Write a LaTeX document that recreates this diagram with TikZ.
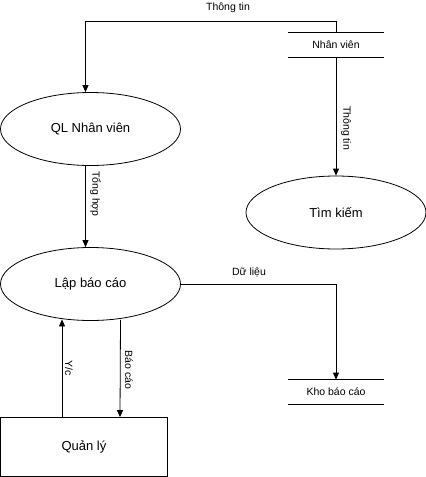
\documentclass[tikz,border=0pt]{standalone}
\usepackage{fontspec}
\setmainfont{Liberation Sans}
\usetikzlibrary{shapes.geometric,arrows.meta}
\tikzset{every path/.style={line width=0.8pt},
  proc/.style={ellipse, draw, inner sep=0pt, minimum width=180pt, minimum height=73pt, font=\fontsize{13}{15}\selectfont},
  store/.style={inner sep=0pt, minimum width=96pt, minimum height=24pt, font=\fontsize{10.5}{12}\selectfont},
  ent/.style={draw, inner sep=0pt, minimum width=167pt, minimum height=59pt, font=\fontsize{13}{15}\selectfont},
  lbl/.style={inner sep=0pt, font=\fontsize{10.5}{12}\selectfont},
  flow/.style={-{Triangle[length=7pt,width=6pt]}}}

\begin{document}
\begin{tikzpicture}[x=1pt,y=-1pt]
   \useasboundingbox (0,0) rectangle (426,477);
    \node[proc] (ql)  at ( 90.5,129) {QL Nhân viên};
    \node[proc] (tk)  at (336,212.5) {Tìm kiếm};
    \node[proc] (lbc) at ( 90.5,284) {Lập báo cáo};
    \node[ent]  (qly) at ( 84,447) {Quản lý};
    \node[store] (nv)  at (336, 45) {Nhân viên};
    \node[store] (kho) at (336,392) {Kho báo cáo};
    \draw (nv.north west) -- (nv.north east) (nv.south west) -- (nv.south east);
    \draw (kho.north west) -- (kho.north east) (kho.south west) -- (kho.south east);
    \coordinate (top) at (336,21);
    \draw[flow] (nv.north) -- (top) -| ([xshift=-5pt]ql.north);
    \draw[flow] (nv.south) -- (tk.north);
    \draw[flow] ([xshift=-5pt]ql.south) -- ([xshift=-5pt]lbc.north);
    \draw[flow] (lbc.east) -| (kho.north);
    \draw[flow] ([xshift=-22pt]qly.north) -- ([xshift=-28.5pt,yshift=1.5pt]lbc.south);
    \draw[flow] ([xshift=30pt,yshift=1pt]lbc.south) -- ([xshift=36pt]qly.north);
    \node[lbl] (l1) at (228,  8) {Thông tin};
    \node[lbl, rotate=-90] (l2) at (346,128) {Thông tin};
    \node[lbl, rotate=-90] (l3) at ( 95.5,194) {Tổng hợp};
    \node[lbl] (l4) at (249,272) {Dữ liệu};
    \node[lbl, rotate=-90] (l5) at ( 69,368) {Y/c};
    \node[lbl, rotate=-90] (l6) at (129,370) {Báo cáo};
\end{tikzpicture}
\end{document}
